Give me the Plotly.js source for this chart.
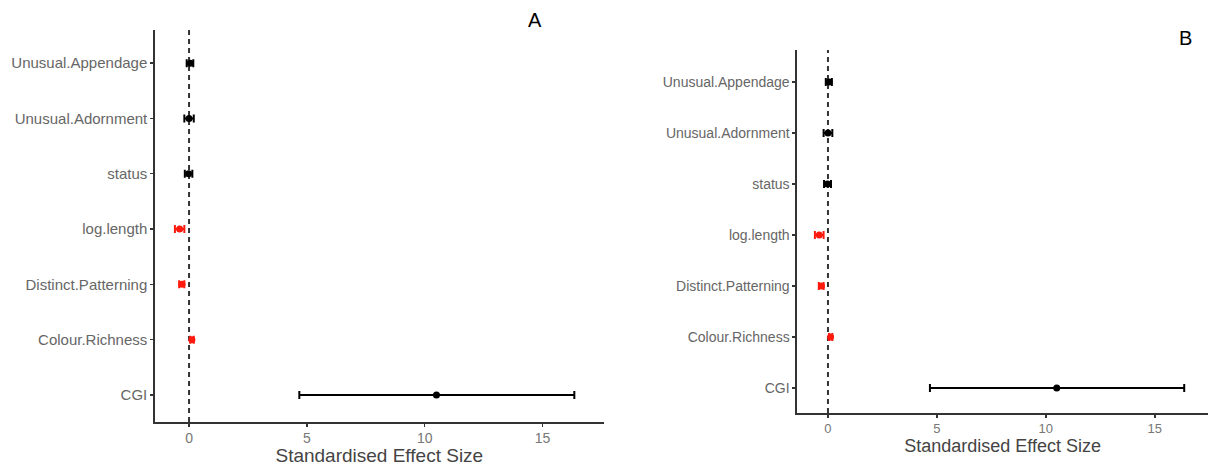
<!DOCTYPE html>
<html>
<head>
<meta charset="utf-8">
<script src="https://cdn.plot.ly/plotly-3.0.1.min.js"></script>
<style>html,body{margin:0;padding:0;background:#fff;}#chart{width:1210px;height:466px;}</style>
</head>
<body>
<div id="chart"></div>
<script>
// Categories, bottom to top
const categories = ["CGI","Colour.Richness","Distinct.Patterning","log.length","status","Unusual.Adornment","Unusual.Appendage"];
// Estimates and confidence limits (same model shown in panels A and B)
const estimate = [10.5, 0.12, -0.3, -0.4, -0.02, 0.0, 0.05];
const lower    = [4.68, 0.05, -0.42, -0.6, -0.18, -0.2, -0.1];
const upper    = [16.35, 0.2, -0.2, -0.2, 0.14, 0.2, 0.18];
// significant (red) or not (black)
const significant = [false, true, true, true, false, false, false];
const xTicks = [0, 5, 10, 15];
const panelLabels = ["A", "B"];

function makeTraces(xa, ya) {
  const groups = [{sig:false, color:"#000000"}, {sig:true, color:"#ff1a0d"}];
  return groups.map(g => {
    const idx = categories.map((c,i)=>i).filter(i => significant[i] === g.sig);
    return {
      type: "scatter", mode: "markers",
      x: idx.map(i => estimate[i]),
      y: idx.map(i => categories[i]),
      xaxis: xa, yaxis: ya,
      marker: {color: g.color, size: 7},
      error_x: {
        type: "data", symmetric: false,
        array: idx.map(i => upper[i] - estimate[i]),
        arrayminus: idx.map(i => estimate[i] - lower[i]),
        color: g.color, thickness: 2, width: 4
      },
      showlegend: false, hoverinfo: "x+y"
    };
  });
}

const data = [...makeTraces("x","y"), ...makeTraces("x2","y2")];

const axisLine = {showline: true, linecolor: "#333333", linewidth: 1.6, showgrid: false, zeroline: false,
  ticks: "outside", ticklen: 3, tickcolor: "#333333", tickwidth: 1.4};

const layout = {
  width: 1210, height: 466,
  margin: {l: 0, r: 0, t: 0, b: 0},
  paper_bgcolor: "#ffffff", plot_bgcolor: "#ffffff",
  font: {family: "Liberation Sans, Arial, sans-serif", color: "#555555"},
  xaxis: Object.assign({}, axisLine, {domain: [0.128, 0.499], range: [-1.45, 17.6], tickvals: xTicks,
    tickfont: {size: 14, color: "#777777"},
    title: {text: "Standardised Effect Size", font: {size: 19, color: "#444444"}, standoff: 3}, anchor: "y"}),
  yaxis: Object.assign({}, axisLine, {domain: [0.0944, 0.9356], range: [-0.49, 6.6], type: "category",
    categoryorder: "array", categoryarray: categories,
    tickfont: {size: 15, color: "#666666"}, anchor: "x"}),
  xaxis2: Object.assign({}, axisLine, {domain: [0.6587, 0.9985], range: [-1.42, 17.45], tickvals: xTicks,
    tickfont: {size: 13, color: "#777777"},
    title: {text: "Standardised Effect Size", font: {size: 18, color: "#444444"}, standoff: 4}, anchor: "y2"}),
  yaxis2: Object.assign({}, axisLine, {domain: [0.1137, 0.8927], range: [-0.49, 6.63], type: "category",
    categoryorder: "array", categoryarray: categories,
    tickfont: {size: 14, color: "#666666"}, anchor: "x2"}),
  shapes: [
    {type: "line", xref: "x", yref: "y domain", x0: 0, x1: 0, y0: 0, y1: 1,
     line: {color: "#333333", width: 2, dash: "5px,4px"}, layer: "below"},
    {type: "line", xref: "x2", yref: "y2 domain", x0: 0, x1: 0, y0: 0, y1: 1,
     line: {color: "#333333", width: 2, dash: "5px,4px"}, layer: "below"}
  ],
  annotations: [
    {text: panelLabels[0], xref: "paper", yref: "paper", x: 535/1210, y: 1 - 20/466, showarrow: false,
     font: {size: 20, color: "#000000", family: "Liberation Sans, Arial, sans-serif"}, xanchor: "center", yanchor: "middle"},
    {text: panelLabels[1], xref: "paper", yref: "paper", x: 1185/1210, y: 1 - 38/466, showarrow: false,
     font: {size: 20, color: "#000000", family: "Liberation Sans, Arial, sans-serif"}, xanchor: "center", yanchor: "middle"}
  ]
};

Plotly.newPlot("chart", data, layout, {displayModeBar: false, staticPlot: true});
</script>
</body>
</html>
